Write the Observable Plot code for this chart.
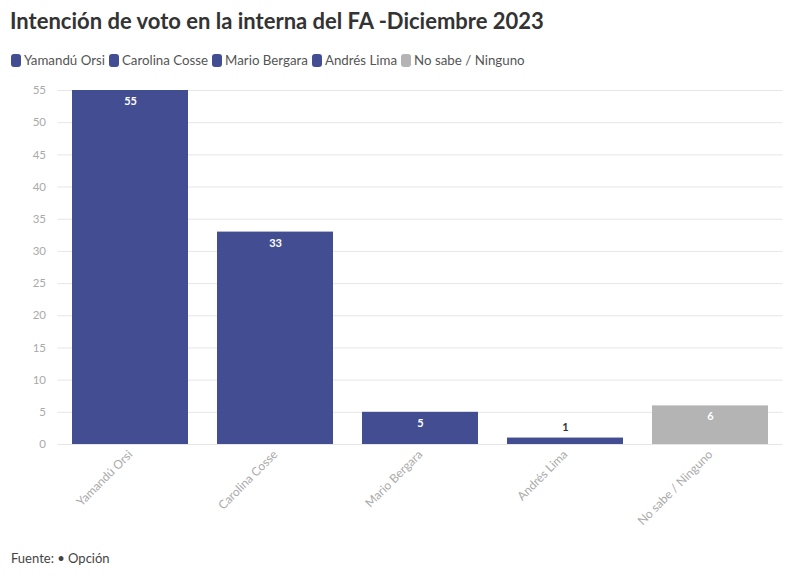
<!DOCTYPE html>
<html>
<head>
<meta charset="utf-8">
<script src="https://cdn.jsdelivr.net/npm/d3@7"></script>
<script src="https://cdn.jsdelivr.net/npm/@observablehq/plot@0.6"></script>
<style>
  body { margin: 0; background: #fff; font-family: Lato, "Noto Sans", sans-serif; width: 800px; height: 577px; overflow: hidden; position: relative; }
  #title { position: absolute; left: 10px; top: 7px; font-size: 22px; font-weight: 700; color: #333; white-space: nowrap; }
  #legend { position: absolute; left: 11px; top: 52px; font-size: 13.3px; color: #555; display: flex; gap: 4px; white-space: nowrap; }
  #legend .item { display: flex; align-items: center; }
  #legend .sw { width: 10px; height: 13px; border-radius: 3px; margin-right: 3px; display: inline-block; }
  #chart { position: absolute; left: 0; top: 75px; }
  #caption { position: absolute; left: 11px; top: 550px; font-size: 13px; color: #444; }
</style>
</head>
<body>
<div id="title">Intención de voto en la interna del FA -Diciembre 2023</div>
<div id="legend"></div>
<div id="chart"></div>
<div id="caption">Fuente: • Opción</div>
<script>
const categories = ["Yamandú Orsi", "Carolina Cosse", "Mario Bergara", "Andrés Lima", "No sabe / Ninguno"];
const values = [55, 33, 5, 1, 6];
const colors = ["#434d91", "#434d91", "#434d91", "#434d91", "#b4b4b4"];
const yTicks = [0, 5, 10, 15, 20, 25, 30, 35, 40, 45, 50, 55];

const data = categories.map((c, i) => ({ cat: c, value: values[i], color: colors[i] }));

const legend = document.getElementById("legend");
data.forEach(d => {
  const it = document.createElement("span");
  it.className = "item";
  it.innerHTML = `<span class="sw" style="background:${d.color}"></span>${d.cat}`;
  legend.appendChild(it);
});

const inside = data.filter(d => d.value >= 3);
const outside = data.filter(d => d.value < 3);

const chart = Plot.plot({
  width: 800,
  height: 465,
  marginTop: 15,
  marginBottom: 96,
  marginLeft: 57.5,
  marginRight: 17.5,
  style: { fontFamily: "Lato, 'Noto Sans', sans-serif", background: "#fff" },
  x: { domain: categories, paddingInner: 0.2, paddingOuter: 0.1, label: null, tickRotate: -45, tickSize: 0 },
  y: { domain: [0, 55], ticks: yTicks, label: null, tickSize: 0 },
  marks: [
    Plot.gridY(yTicks, { stroke: "#e6e6e6", strokeOpacity: 1 }),
    Plot.barY(data, { x: "cat", y: "value", fill: "color" }),
    Plot.text(inside, { x: "cat", y: "value", text: d => String(d.value), dy: 11, fill: "#fff", fontWeight: "bold", fontSize: 11 }),
    Plot.text(outside, { x: "cat", y: "value", text: d => String(d.value), dy: -11, fill: "#333", fontWeight: "bold", fontSize: 11 }),
    Plot.axisY({ ticks: yTicks, tickSize: 0, tickPadding: 12, fill: "#aaa", fontSize: 11.5, label: null }),
    Plot.axisX({ tickRotate: -45, tickSize: 0, tickPadding: 8, fill: "#aaa", fontSize: 12, label: null })
  ]
});
document.getElementById("chart").appendChild(chart);
</script>
</body>
</html>
